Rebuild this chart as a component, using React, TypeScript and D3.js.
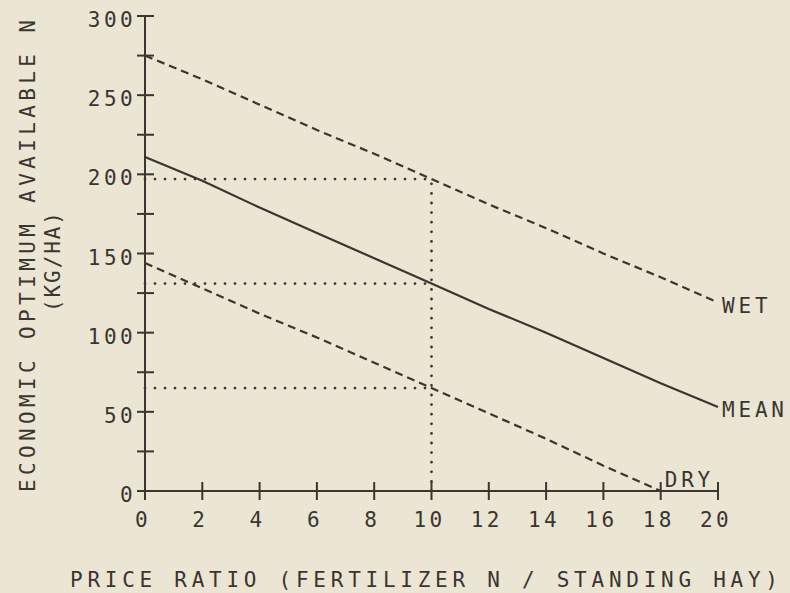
import * as d3 from 'd3';

// price ratio (fertilizer N / standing hay)
const priceRatio = [0, 2, 4, 6, 8, 10, 12, 14, 16, 18, 20];
const wet = [275, 260, 244, 228, 213, 197, 181, 166, 150, 135, 119];
const mean = [211, 196, 179, 163, 147, 131, 115, 100, 84, 68, 53];
const dry = [144, 128, 112, 97, 81, 65, 49, 33, 16, 0];

// guide lines read at price ratio 10
const guideRatio = 10;
const guideLevels = [197, 131, 65];

const xTicks = [0, 2, 4, 6, 8, 10, 12, 14, 16, 18, 20];
const yTicks = [0, 25, 50, 75, 100, 125, 150, 175, 200, 225, 250, 275, 300];
const yLabels = [0, 50, 100, 150, 200, 250, 300];

const W = 790;
const H = 593;
const INK = '#3a3531';
const BG = '#ebe5d3';
const FONT = '"DejaVu Sans Mono", monospace';

export default function App() {
  const x = d3.scaleLinear().domain([0, 20]).range([145, 718]);
  const y = d3.scaleLinear().domain([0, 300]).range([491, 16]);

  const line = d3.line<[number, number]>().x(d => x(d[0])).y(d => y(d[1]));
  const pts = (vals: number[]) => vals.map((v, i) => [priceRatio[i], v] as [number, number]);

  const series = [
    { name: 'WET', vals: wet, dash: '8 5', dx: 4, dy: 10 },
    { name: 'MEAN', vals: mean, dash: undefined, dx: 4, dy: 10 },
    { name: 'DRY', vals: dry, dash: '8 5', dx: 4, dy: -4 },
  ];

  const tickText = { fontFamily: FONT, fontSize: 21, fill: INK, letterSpacing: 3.4 } as const;

  return (
    <div style={{ position: 'fixed', left: 0, top: 0 }}>
      <svg width={W} height={H} style={{ display: 'block', background: BG }}>
        <rect width={W} height={H} fill={BG} />

        {/* dotted guides */}
        {guideLevels.map(v => (
          <line key={v} x1={x(0)} x2={x(guideRatio)} y1={y(v)} y2={y(v)}
            stroke={INK} strokeWidth={2.8} strokeLinecap="round"
            strokeDasharray="0 10" strokeDashoffset={-10} />
        ))}
        <line x1={x(guideRatio)} x2={x(guideRatio)} y1={y(0)} y2={y(guideLevels[0])}
          stroke={INK} strokeWidth={2.8} strokeLinecap="round" strokeDasharray="0 9.6" />

        {/* series */}
        {series.map(s => {
          const p = pts(s.vals);
          const last = p[p.length - 1];
          return (
            <g key={s.name}>
              <path d={line(p) ?? ''} fill="none" stroke={INK} strokeWidth={2.2}
                strokeDasharray={s.dash} />
              <text x={x(last[0]) + s.dx} y={y(last[1]) + s.dy} {...tickText} letterSpacing={3.8}>
                {s.name}
              </text>
            </g>
          );
        })}

        {/* y axis */}
        <line x1={x(0)} x2={x(0)} y1={y(0)} y2={y(300)} stroke={INK} strokeWidth={2} />
        {yTicks.map(t => (
          <line key={t} x1={x(0) - 8} x2={x(0) + 9} y1={y(t)} y2={y(t)} stroke={INK} strokeWidth={2} />
        ))}
        {yLabels.map(t => (
          <text key={t} x={x(0) - 9} y={y(t) + 11} textAnchor="end" {...tickText}>{t}</text>
        ))}

        {/* x axis */}
        <line x1={x(0)} x2={x(20)} y1={y(0)} y2={y(0)} stroke={INK} strokeWidth={2} />
        {xTicks.map(t => (
          <line key={t} x1={x(t)} x2={x(t)} y1={y(0) - 9} y2={y(0) + 9} stroke={INK} strokeWidth={2} />
        ))}
        {xTicks.map(t => (
          <text key={t} x={x(t) - 2} y={527} textAnchor="middle" {...tickText}>{t}</text>
        ))}

        {/* axis titles */}
        <text x={70} y={587} {...tickText} letterSpacing={0} textLength={708} lengthAdjust="spacing">
          PRICE RATIO  (FERTILIZER N / STANDING HAY)
        </text>
        <g transform="translate(35,492) rotate(-90)">
          <text x={0} y={0} {...tickText} letterSpacing={0} textLength={472} lengthAdjust="spacing">
            ECONOMIC OPTIMUM AVAILABLE N
          </text>
        </g>
        <g transform="translate(60,312) rotate(-90)">
          <text x={0} y={0} {...tickText} letterSpacing={0} textLength={100} lengthAdjust="spacing">
            (KG/HA)
          </text>
        </g>
      </svg>
    </div>
  );
}
